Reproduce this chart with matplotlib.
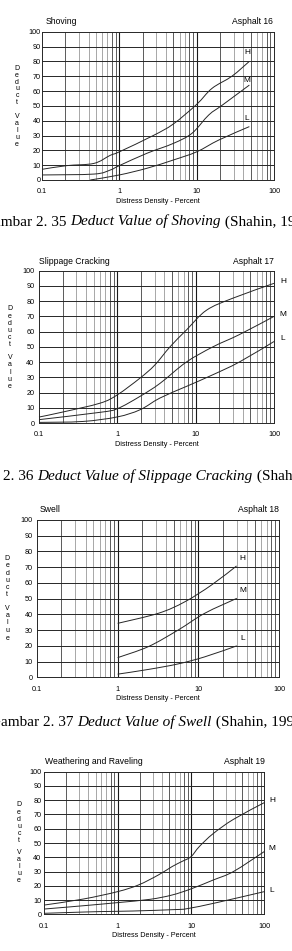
import numpy as np
import matplotlib
matplotlib.use('Agg')
import matplotlib.pyplot as plt
from matplotlib.path import Path
from matplotlib.patches import PathPatch

W, H = 292, 951

# ---- data (x = distress density %, y = deduct value)
shov_H_x = [0.1, 0.21, 0.47, 0.76, 1.0, 2.75, 5.0, 10.0, 15.8, 28.6, 48.0]
shov_H_y = [7.2, 9.7, 11.2, 16.6, 19.0, 30.0, 37.8, 51.0, 61.8, 70.0, 80.0]
shov_M_x = [0.1, 0.47, 0.76, 1.0, 2.27, 5.0, 8.7, 14.3, 21.6, 48.0]
shov_M_y = [3.4, 4.0, 6.7, 9.7, 18.0, 24.7, 31.5, 43.8, 50.6, 64.0]
shov_L_x = [0.42, 1.0, 2.27, 5.0, 10.0, 19.4, 48.0]
shov_L_y = [0.0, 3.4, 7.9, 13.5, 19.0, 27.0, 36.0]

slip_H_x = [0.1, 0.193, 0.6, 1.0, 1.95, 3.0, 4.7, 7.6, 13.7, 30.0, 100.0]
slip_H_y = [3.9, 7.0, 13.0, 18.5, 29.5, 38.0, 50.0, 61.0, 74.0, 82.0, 91.7]
slip_M_x = [0.1, 0.6, 1.0, 1.95, 3.5, 7.6, 16.6, 36.0, 100.0]
slip_M_y = [2.2, 7.0, 9.4, 17.5, 26.0, 40.0, 50.0, 58.0, 70.0]
slip_L_x = [0.1, 0.36, 1.0, 1.95, 3.5, 7.6, 16.6, 36.0, 100.0]
slip_L_y = [0.4, 1.0, 4.0, 8.7, 16.4, 24.0, 31.7, 40.0, 53.5]

swel_H_x = [1.0, 3.2, 6.8, 14.6, 29.8]
swel_H_y = [34.3, 40.7, 48.0, 58.7, 70.8]
swel_M_x = [1.0, 2.4, 5.6, 12.0, 30.0]
swel_M_y = [12.5, 19.5, 30.0, 40.7, 50.2]
swel_L_x = [1.0, 2.4, 5.6, 12.0, 30.0]
swel_L_y = [2.0, 5.0, 8.5, 13.0, 20.0]

weat_H_x = [0.1, 0.34, 1.0, 1.93, 3.6, 5.5, 7.5, 10.0, 13.0, 20.0, 38.0, 100.0]
weat_H_y = [6.5, 10.7, 15.9, 20.6, 27.6, 33.4, 37.0, 40.4, 47.5, 56.5, 66.6, 78.3]
weat_M_x = [0.1, 0.34, 1.0, 2.76, 5.5, 10.0, 20.0, 38.0, 100.0]
weat_M_y = [3.7, 6.0, 8.2, 10.5, 13.5, 17.8, 24.0, 30.0, 44.0]
weat_L_x = [0.1, 0.2, 0.57, 1.6, 6.0, 9.0, 22.5, 100.0]
weat_L_y = [0.7, 1.2, 1.9, 2.3, 3.3, 4.0, 8.2, 15.9]

y_ticks = [0, 10, 20, 30, 40, 50, 60, 70, 80, 90, 100]
x_ticks = [0.1, 1, 10, 100]
x_tick_labels = ['0.1', '1', '10', '100']
severity = ['H', 'M', 'L']

charts = [
    dict(title='Shoving', code='Asphalt 16',
         curves=[(shov_H_x, shov_H_y), (shov_M_x, shov_M_y), (shov_L_x, shov_L_y)],
         caption=('Gambar 2. 35 ', 'Deduct Value of Shoving', ' (Shahin, 1994)')),
    dict(title='Slippage Cracking', code='Asphalt 17',
         curves=[(slip_H_x, slip_H_y), (slip_M_x, slip_M_y), (slip_L_x, slip_L_y)],
         caption=('Gambar 2. 36 ', 'Deduct Value of Slippage Cracking', ' (Shahin, 1994)')),
    dict(title='Swell', code='Asphalt 18',
         curves=[(swel_H_x, swel_H_y), (swel_M_x, swel_M_y), (swel_L_x, swel_L_y)],
         caption=('Gambar 2. 37 ', 'Deduct Value of Swell', ' (Shahin, 1994)')),
    dict(title='Weathering and Raveling', code='Asphalt 19',
         curves=[(weat_H_x, weat_H_y), (weat_M_x, weat_M_y), (weat_L_x, weat_L_y)],
         caption=None),
]

# ---- layout (pixels, measured on the page)
# axes box: x0, x1, ytop, ybottom
boxes = [(42, 274, 31.7, 180), (39, 274, 270.7, 423),
         (37, 279, 520, 677.3), (44.3, 264.3, 771.7, 914.3)]
title_pos = [(46, 273, 22), (39.3, 274, 261), (39.3, 279.3, 509.3), (45.3, 265, 762)]
ylab_pos = [(17, 69, 102, 117, 144), (10, 309, 345, 357.7, 386.7),
            (7.3, 558.7, 595, 608, 638), (19, 805, 841, 852, 880.7)]
ytick_pad = [1.0, 4.5, 4.0, 3.0]
sev_label_pos = [[(247, 53), (247, 81), (247, 118)],
                 [(283, 282), (283, 315), (283, 339)],
                 [(242, 559), (243, 590), (243, 638)],
                 [(272, 800), (272, 849), (272, 891)]]
# caption: (chars hidden past the left edge, x where visible text starts, baseline y)
caption_pos = [('Ga', 0.5, 225.5), ('Gambar ', 3, 480), ('G', 1, 726)]

SANS = 'Liberation Sans'
SERIF = 'Liberation Serif'


def smooth_path(xs, ys):
    # Catmull-Rom through the read points, done in (log x, y), drawn as Bezier
    p = np.column_stack([np.log10(xs), ys])
    ext = np.vstack([p[0], p, p[-1]])
    verts = [p[0]]
    codes = [Path.MOVETO]
    for k in range(len(p) - 1):
        a, b, c, d = ext[k], ext[k + 1], ext[k + 2], ext[k + 3]
        verts += [b + (c - a) / 6.0, c - (d - b) / 6.0, c]
        codes += [Path.CURVE4] * 3
    verts = np.array(verts)
    verts[:, 0] = 10 ** verts[:, 0]
    return Path(verts, codes)


fig = plt.figure(figsize=(W / 100, H / 100), dpi=100)
fig.patch.set_facecolor('white')

minor = [m * 10.0 ** e for e in (-1, 0, 1) for m in range(2, 10)]
dark_minor = {0.2, 0.8, 0.9, 2, 5, 8, 9, 20, 50, 80, 90}

for i, ch in enumerate(charts):
    x0, x1, yt, yb = boxes[i]
    ax = fig.add_axes([x0 / W, 1 - yb / H, (x1 - x0) / W, (yb - yt) / H])
    ax.set_xscale('log')
    ax.set_xlim(0.1, 100)
    ax.set_ylim(0, 100)
    for m in minor:
        c = '0.25' if round(m, 6) in dark_minor else '0.6'
        ax.axvline(m, color=c, lw=0.6, zorder=1)
    for d in [1, 10]:
        ax.axvline(d, color='0.1', lw=0.8, zorder=1)
    for v in y_ticks[1:-1]:
        ax.axhline(v, color='0.15', lw=0.7, zorder=1)
    for s in ax.spines.values():
        s.set_color('0.15')
        s.set_linewidth(0.7)

    for (cx, cy) in ch['curves']:
        ax.add_patch(PathPatch(smooth_path(cx, cy), fill=False, edgecolor='0.15',
                               lw=0.7, zorder=3, clip_on=False))

    ax.set_yticks(y_ticks)
    ax.set_yticklabels([str(v) for v in y_ticks], fontsize=5.2, family=SANS)
    ax.set_xticks(x_ticks)
    ax.set_xticklabels(x_tick_labels, fontsize=5.2, family=SANS)
    ax.minorticks_off()
    ax.tick_params(axis='both', length=0)
    ax.tick_params(axis='y', pad=ytick_pad[i] * 0.72)
    ax.tick_params(axis='x', pad=8.5 * 0.72)
    ax.set_xlabel('Distress Density - Percent', fontsize=5.2, family=SANS, labelpad=1.5)

    tl, tr, ty = title_pos[i]
    fig.text(tl / W, 1 - ty / H, ch['title'], fontsize=6.2, family=SANS,
             ha='left', va='center')
    fig.text(tr / W, 1 - ty / H, ch['code'], fontsize=6.2, family=SANS,
             ha='right', va='center')

    lx, d0, d1, v0, v1 = ylab_pos[i]
    for word, a, b in (('Deduct', d0, d1), ('Value', v0, v1)):
        for k, letter in enumerate(word):
            yy = a + (b - a) * k / (len(word) - 1)
            fig.text(lx / W, 1 - yy / H, letter, fontsize=5.0, family=SANS,
                     ha='center', va='center')

    for lab, (px, py) in zip(severity, sev_label_pos[i]):
        fig.text(px / W, 1 - py / H, lab, fontsize=6.0, family=SANS,
                 ha='center', va='center')

# ---- captions (mixed upright / italic, cropped by page edge)
fig.canvas.draw()
renderer = fig.canvas.get_renderer()


def text_width(s, **kw):
    t = fig.text(0, 0, 'x' + s + 'x', **kw)
    r = fig.text(0, 0, 'xx', **kw)
    w = t.get_window_extent(renderer).width - r.get_window_extent(renderer).width
    t.remove()
    r.remove()
    return w


cap_size = 11.0
for ch, (skip, xs, yb) in zip(charts, caption_pos):
    parts = ch['caption']
    x = xs - text_width(skip, fontsize=cap_size, family=SERIF)
    for s, style in zip(parts, ['normal', 'italic', 'normal']):
        fig.text(x / W, 1 - yb / H, s, fontsize=cap_size, family=SERIF,
                 style=style, ha='left', va='baseline')
        x += text_width(s, fontsize=cap_size, family=SERIF, style=style)

fig.savefig('out.png', dpi=100)
